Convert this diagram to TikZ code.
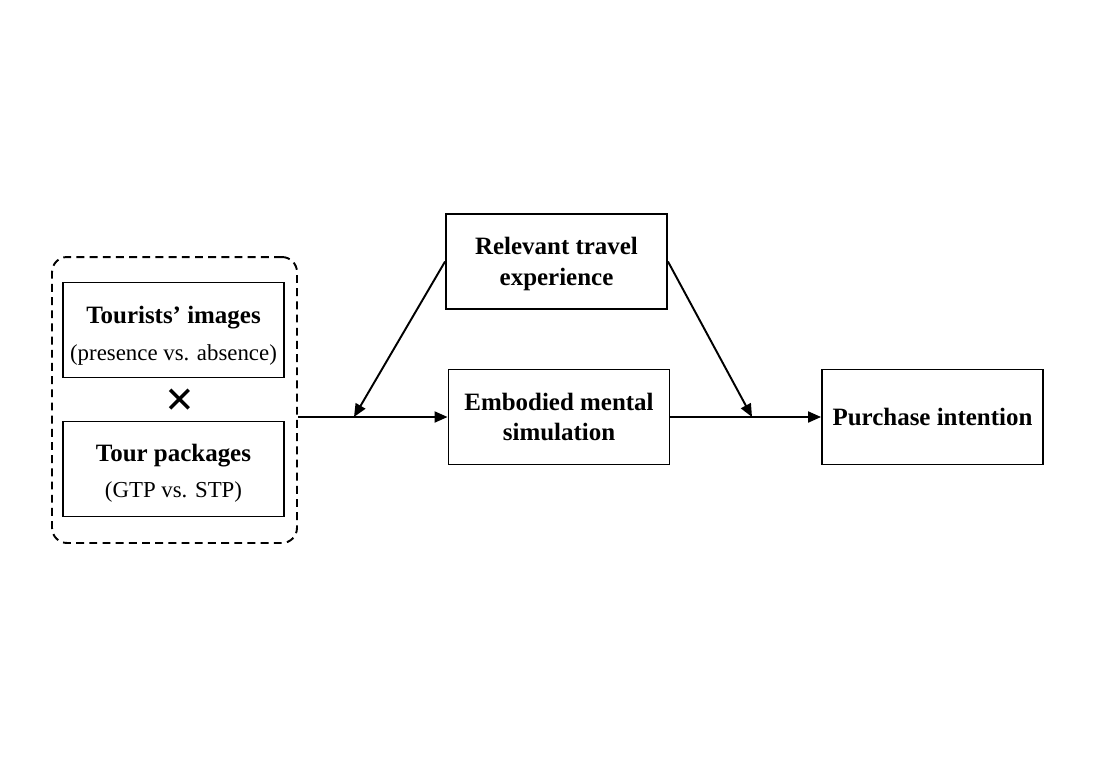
\documentclass[tikz,border=0pt]{standalone}
\usepackage{fontspec}
\setmainfont{Liberation Serif}
\usetikzlibrary{arrows.meta}

\begin{document}
\begin{tikzpicture}
  [x=0.02cm,y=-0.02cm,line width=1.1pt,
   every node/.style={draw=black,align=center,minimum width=4.42cm,minimum height=1.9cm,
     inner sep=0pt,font=\fontsize{14.2}{17.6}\selectfont\bfseries},
   arr/.style={-{Triangle[length=0.26cm,width=0.22cm]}}]
  \useasboundingbox (0,0) rectangle (1104,768);
  \node[dashed,dash pattern=on 4.5pt off 3pt,rounded corners=0.3cm,minimum width=4.9cm,minimum height=5.72cm] (grp) at (174.5,400) {};
  \node (img) at (173.5,330) {\rule{0pt}{16.5pt}Tourists’ images\\[3.5pt]{\fontsize{13}{16}\mdseries\selectfont (presence vs. absence)}};
  \node (pkg) at (173.5,469) {\rule{0pt}{14.3pt}Tour packages\\[3pt]{\fontsize{13}{16}\mdseries\selectfont (GTP vs. STP)}};
  \node[draw=none,minimum width=0pt,minimum height=0pt] (cross) at (180,403) {\fontsize{29}{29}\selectfont ×};
  \node (rel) at (556.5,261.5) {\rule{0pt}{13pt}Relevant travel\\experience};
  \node (ems) at (559,417) {Embodied mental\\simulation};
  \node (pur) at (932.5,417) {Purchase intention};

  \coordinate (m1) at (354,417);
  \coordinate (m2) at (752,417);

  \draw[arr] (grp.east |- ems.west) -- (ems.west);
  \draw[arr] (ems.east) -- (pur.west);
  \draw[arr] (rel.west) -- (m1);
  \draw[arr] (rel.east) -- (m2);

\end{tikzpicture}
\end{document}
